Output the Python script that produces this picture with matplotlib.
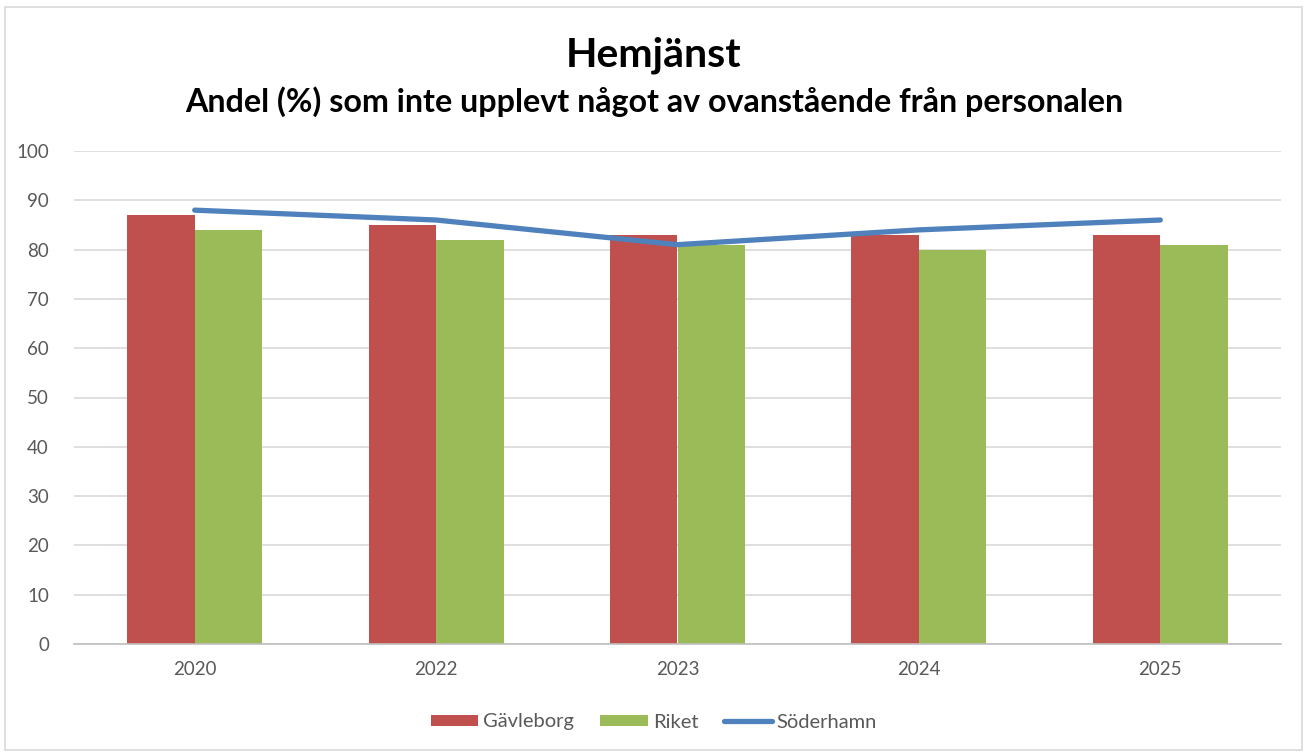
import matplotlib
matplotlib.use("Agg")
import matplotlib.pyplot as plt
import numpy as np
from matplotlib.patches import Rectangle

years = ["2020", "2022", "2023", "2024", "2025"]
gavleborg = [87, 85, 83, 83, 83]
riket = [84, 82, 81, 80, 81]
soderhamn = [88, 86, 81, 84, 86]
yticks = list(range(0, 101, 10))

plt.rcParams['font.family'] = ['Lato', 'DejaVu Sans']

W, H = 1308, 753
fig = plt.figure(figsize=(W / 100, H / 100), dpi=100)
fig.patch.set_facecolor("white")

# chart border
fig.add_artist(Rectangle((5 / W, 1 - 750 / H), (1302 - 5) / W, (750 - 7) / H,
                         transform=fig.transFigure, fill=False,
                         edgecolor="#D9D9D9", linewidth=1.2))

left, right = 74 / W, 1281 / W
bottom, top = 1 - 644 / H, 1 - 151 / H
ax = fig.add_axes([left, bottom, right - left, top - bottom])

x = np.arange(len(years))
bw = 0.28
b1 = ax.bar(x - bw / 2, gavleborg, bw, color="#C0504D", label="Gävleborg", zorder=2)
b2 = ax.bar(x + bw / 2, riket, bw, color="#9BBB59", label="Riket", zorder=2)
l1, = ax.plot(x, soderhamn, color="#4F81BD", linewidth=3.8, label="Söderhamn",
              solid_capstyle="round", zorder=3)

ax.set_xlim(-0.5, len(years) - 0.5)
ax.set_ylim(0, 100)
ax.set_yticks(yticks)
ax.set_xticks(x)
ax.set_xticklabels(years)
ax.grid(axis="y", color="#D9D9D9", linewidth=1.2, zorder=0)
for s in ["top", "right", "left"]:
    ax.spines[s].set_visible(False)
ax.spines["bottom"].set_color("#BFBFBF")
ax.spines["bottom"].set_linewidth(1.2)
ax.tick_params(axis="both", length=0, labelsize=13.5, labelcolor="#595959")
ax.tick_params(axis="y", pad=18)
ax.tick_params(axis="x", pad=12)

fig.text(0.5, 1 - 55 / H, "Hemjänst", ha="center", va="center",
         fontsize=29.5, fontweight="bold", color="black")
fig.text(0.5, 1 - 102 / H, "Andel (%) som inte upplevt något av ovanstående från personalen",
         ha="center", va="center", fontsize=23.2, fontweight="bold", color="black")

leg = fig.legend([b1, b2, l1], ["Gävleborg", "Riket", "Söderhamn"],
                 loc="center", bbox_to_anchor=(0.5, 1 - 722 / H), ncol=3,
                 frameon=False, fontsize=14.5, handlelength=2.35, handleheight=0.45,
                 columnspacing=1.3, handletextpad=0.25)
for t in leg.get_texts():
    t.set_color("#595959")

fig.savefig("out.png", dpi=100, facecolor="white")
